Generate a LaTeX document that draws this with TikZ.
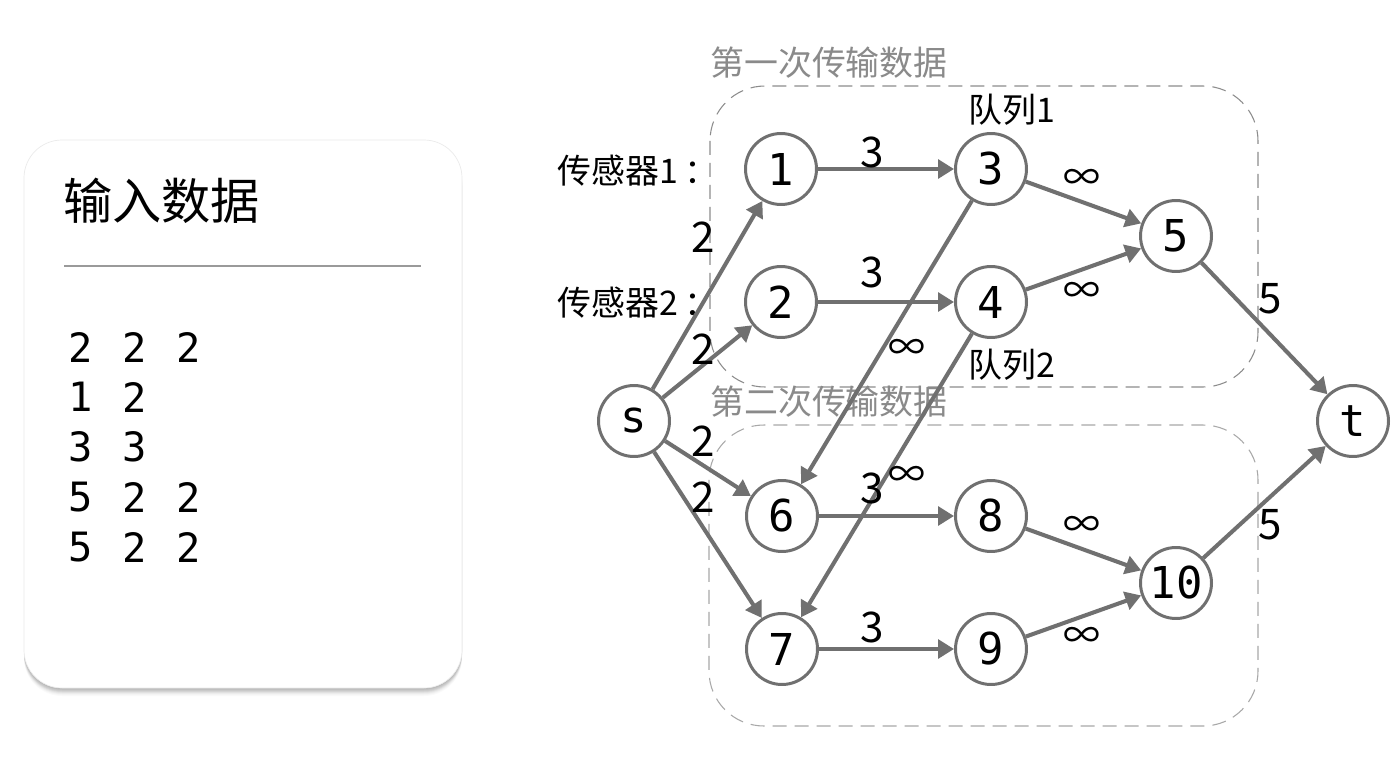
\documentclass[tikz,border=0pt]{standalone}
\usepackage{fontspec}
\setmainfont{Noto Sans CJK SC}
\newfontfamily\monof{DejaVu Sans Mono}
\usetikzlibrary{arrows.meta}
\definecolor{edgegray}{HTML}{707070}
\definecolor{boxgrayA}{HTML}{8C8C8C}
\definecolor{boxgrayB}{HTML}{A8A8A8}
\definecolor{titlegray}{HTML}{8A8A8A}
\definecolor{rulegray}{HTML}{9A9A9A}
\begin{document}
\begin{tikzpicture}[x=0.02cm,y=-0.02cm,
  vnode/.style={circle,draw=edgegray,line width=1.7pt,fill=white,minimum size=1.42cm,inner sep=0pt,font=\monof\fontsize{25}{25}\selectfont},
  flow/.style={draw=edgegray,line width=2.3pt,-{Triangle[length=9pt,width=10.5pt]}},
  elabel/.style={inner sep=0pt,font=\fontsize{24}{24}\selectfont},
  inflabel/.style={inner sep=0pt,font=\fontsize{21}{21}\selectfont},
  cnlabel/.style={inner sep=0pt,font=\fontsize{19.3}{19.3}\selectfont},
  grouptitle/.style={inner sep=0pt,font=\fontsize{19.3}{19.3}\selectfont,text=titlegray},
  groupbox/.style={dash pattern=on 0.28cm off 0.16cm,line width=0.6pt,rounded corners=1.1cm},
  datanum/.style={inner sep=0pt,font=\monof\fontsize{23}{23}\selectfont},
]
\useasboundingbox (0,0) rectangle (1396,761);
\fill[white] (0,0) rectangle (1396,761);

% input card with soft shadow
\foreach \d/\o in {1/0.05,2/0.05,3/0.05,4/0.05,5/0.04,6/0.03,7/0.02,8/0.02}
  \fill[black,opacity=\o,rounded corners=0.76cm] (24,140+\d) rectangle (462,688+\d);
\filldraw[fill=white,draw=black!8,line width=0.4pt,rounded corners=0.76cm] (24,140) rectangle (462,688);
\node[inner sep=0pt,anchor=west,font=\fontsize{28}{28}\selectfont] (ttl) at (63,201) {输入数据};
\draw[rulegray,line width=0.6pt] (64,266) -- (421,266);
\node[datanum] (r1a) at (81,347) {2};
\node[datanum] (r1b) at (135,347) {2};
\node[datanum] (r1c) at (189,347) {2};
\node[datanum] (r2a) at (81,397) {1};
\node[datanum] (r2b) at (135,397) {2};
\node[datanum] (r3a) at (81,447) {3};
\node[datanum] (r3b) at (135,447) {3};
\node[datanum] (r4a) at (81,497) {5};
\node[datanum] (r4b) at (135,497) {2};
\node[datanum] (r4c) at (189,497) {2};
\node[datanum] (r5a) at (81,547) {5};
\node[datanum] (r5b) at (135,547) {2};
\node[datanum] (r5c) at (189,547) {2};

% group boxes
\draw[groupbox,draw=boxgrayA] (710,86) rectangle (1258,387);
\draw[groupbox,draw=boxgrayB] (709,425) rectangle (1258,726);
\node[grouptitle,anchor=west] (g1) at (710,63) {第一次传输数据};
\node[grouptitle,anchor=west] (g2) at (710,402) {第二次传输数据};

% side labels
\node[cnlabel,anchor=west] (sen1) at (557,171) {传感器1\kern0.2em：};
\node[cnlabel,anchor=west] (sen2) at (557,303) {传感器2\kern0.2em：};
\node[cnlabel,anchor=west] (q1) at (968,110) {队列1};
\node[cnlabel,anchor=west] (q2) at (968,365) {队列2};

% vertices
\node[vnode] (s) at (634,421) {s};
\node[vnode] (n1) at (781,169) {1};
\node[vnode] (n2) at (781,302) {2};
\node[vnode] (n3) at (991,169) {3};
\node[vnode] (n4) at (991,302) {4};
\node[vnode] (n5) at (1176,236) {5};
\node[vnode] (n6) at (782,516) {6};
\node[vnode] (n7) at (782,649) {7};
\node[vnode] (n8) at (991,516) {8};
\node[vnode] (n9) at (991,649) {9};
\node[vnode] (n10) at (1176,583) {10};
\node[vnode] (t) at (1353,421) {t};

% edges
\draw[flow] (s) -- (n1);
\draw[flow] (s) -- (n2);
\draw[flow] (s) -- (n6);
\draw[flow] (s) -- (n7);
\draw[flow] (n1) -- (n3);
\draw[flow] (n2) -- (n4);
\draw[flow] (n3) -- (n6);
\draw[flow] (n4) -- (n7);
\draw[flow] (n3) -- (n5);
\draw[flow] (n4) -- (n5);
\draw[flow] (n6) -- (n8);
\draw[flow] (n7) -- (n9);
\draw[flow] (n8) -- (n10);
\draw[flow] (n9) -- (n10);
\draw[flow] (n5) -- (t);
\draw[flow] (n10) -- (t);

% edge labels
\node[elabel] (l1) at (703,237) {2};
\node[elabel] (l2) at (703,349) {2};
\node[elabel] (l3) at (703,441) {2};
\node[elabel] (l4) at (703,497) {2};
\node[elabel] (l5) at (872,152) {3};
\node[elabel] (l6) at (872,272) {3};
\node[elabel] (l7) at (872,488) {3};
\node[elabel] (l8) at (872,627) {3};
\node[inflabel] (l9) at (1082,180) {∞};
\node[inflabel] (l10) at (1082,293) {∞};
\node[inflabel] (l11) at (907,350) {∞};
\node[inflabel] (l12) at (907,477) {∞};
\node[inflabel] (l13) at (1082,527) {∞};
\node[inflabel] (l14) at (1082,638) {∞};
\node[elabel] (l15) at (1270,299) {5};
\node[elabel] (l16) at (1270,525) {5};
\end{tikzpicture}
\end{document}
